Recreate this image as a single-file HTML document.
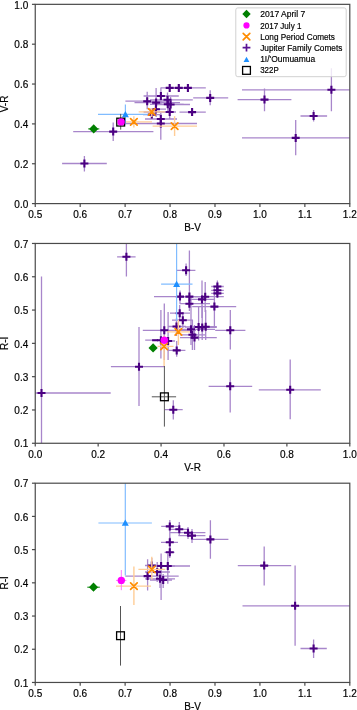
<!DOCTYPE html>
<html><head><meta charset="utf-8"><style>
html,body{margin:0;padding:0;background:#fff;}
svg{display:block;will-change:transform;}
text{font-family:"Liberation Sans",sans-serif;fill:#000;stroke:#000;stroke-width:0.18px;}
</style></head><body>
<svg width="357" height="710" viewBox="0 0 357 710">
<rect width="357" height="710" fill="#fff"/>
<clipPath id="c0"><rect x="35.25" y="4.34" width="314.55" height="199.26"/></clipPath><g clip-path="url(#c0)">
<line x1="62.1" y1="163.5" x2="106.8" y2="163.5" stroke="#a886cb" stroke-width="1.3"/>
<line x1="84.4" y1="156" x2="84.4" y2="171.5" stroke="#a886cb" stroke-width="1.3"/>
<line x1="73.2" y1="131.6" x2="153.4" y2="131.6" stroke="#a886cb" stroke-width="1.3"/>
<line x1="113.2" y1="122.5" x2="113.2" y2="141" stroke="#a886cb" stroke-width="1.3"/>
<line x1="125.4" y1="101.2" x2="170" y2="101.2" stroke="#a886cb" stroke-width="1.3"/>
<line x1="147.2" y1="91.8" x2="147.2" y2="109.3" stroke="#a886cb" stroke-width="1.3"/>
<line x1="143" y1="114.6" x2="160" y2="114.6" stroke="#a886cb" stroke-width="1.3"/>
<line x1="151.8" y1="109" x2="151.8" y2="119" stroke="#a886cb" stroke-width="1.3"/>
<line x1="134.5" y1="102.6" x2="180" y2="102.6" stroke="#a886cb" stroke-width="1.3"/>
<line x1="156.1" y1="88.1" x2="156.1" y2="117" stroke="#a886cb" stroke-width="1.3"/>
<line x1="148" y1="109.2" x2="166" y2="109.2" stroke="#a886cb" stroke-width="1.3"/>
<line x1="155.9" y1="104" x2="155.9" y2="115" stroke="#a886cb" stroke-width="1.3"/>
<line x1="143.6" y1="96" x2="178.8" y2="96" stroke="#a886cb" stroke-width="1.3"/>
<line x1="160.9" y1="87.6" x2="160.9" y2="104" stroke="#a886cb" stroke-width="1.3"/>
<line x1="150" y1="99.8" x2="192.8" y2="99.8" stroke="#a886cb" stroke-width="1.3"/>
<line x1="167.5" y1="92.5" x2="167.5" y2="108" stroke="#a886cb" stroke-width="1.3"/>
<line x1="150" y1="104.3" x2="183.7" y2="104.3" stroke="#a886cb" stroke-width="1.3"/>
<line x1="167.8" y1="96" x2="167.8" y2="112" stroke="#a886cb" stroke-width="1.3"/>
<line x1="155" y1="104.5" x2="190" y2="104.5" stroke="#a886cb" stroke-width="1.3"/>
<line x1="170.6" y1="97" x2="170.6" y2="112" stroke="#a886cb" stroke-width="1.3"/>
<line x1="143.6" y1="112" x2="176" y2="112" stroke="#a886cb" stroke-width="1.3"/>
<line x1="169.7" y1="105" x2="169.7" y2="119" stroke="#a886cb" stroke-width="1.3"/>
<line x1="145" y1="119" x2="177" y2="119" stroke="#a886cb" stroke-width="1.3"/>
<line x1="160.8" y1="113" x2="160.8" y2="128" stroke="#a886cb" stroke-width="1.3"/>
<line x1="125.4" y1="123.5" x2="197" y2="123.5" stroke="#a886cb" stroke-width="1.3"/>
<line x1="160.8" y1="114" x2="160.8" y2="139.8" stroke="#a886cb" stroke-width="1.3"/>
<line x1="160.9" y1="87.9" x2="180" y2="87.9" stroke="#a886cb" stroke-width="1.3"/>
<line x1="169.7" y1="85" x2="169.7" y2="91" stroke="#a886cb" stroke-width="1.3"/>
<line x1="168" y1="87.9" x2="190" y2="87.9" stroke="#a886cb" stroke-width="1.3"/>
<line x1="178.8" y1="85" x2="178.8" y2="91" stroke="#a886cb" stroke-width="1.3"/>
<line x1="166.6" y1="87.9" x2="205.8" y2="87.9" stroke="#a886cb" stroke-width="1.3"/>
<line x1="187.9" y1="84" x2="187.9" y2="92" stroke="#a886cb" stroke-width="1.3"/>
<line x1="179.5" y1="112.1" x2="205.8" y2="112.1" stroke="#a886cb" stroke-width="1.3"/>
<line x1="192.1" y1="107.9" x2="192.1" y2="115.6" stroke="#a886cb" stroke-width="1.3"/>
<line x1="193.2" y1="97.9" x2="228.2" y2="97.9" stroke="#a886cb" stroke-width="1.3"/>
<line x1="210.2" y1="90.2" x2="210.2" y2="105.3" stroke="#a886cb" stroke-width="1.3"/>
<line x1="237.6" y1="99.6" x2="291.4" y2="99.6" stroke="#a886cb" stroke-width="1.3"/>
<line x1="264.5" y1="88.4" x2="264.5" y2="111.3" stroke="#a886cb" stroke-width="1.3"/>
<line x1="242" y1="89.8" x2="352" y2="89.8" stroke="#a886cb" stroke-width="1.3"/>
<line x1="331.4" y1="68.3" x2="331.4" y2="111.2" stroke="#a886cb" stroke-width="1.3"/>
<line x1="300.5" y1="116" x2="327.1" y2="116" stroke="#a886cb" stroke-width="1.3"/>
<line x1="313.6" y1="110" x2="313.6" y2="121.4" stroke="#a886cb" stroke-width="1.3"/>
<line x1="242" y1="137.9" x2="352" y2="137.9" stroke="#a886cb" stroke-width="1.3"/>
<line x1="295.7" y1="120" x2="295.7" y2="155.2" stroke="#a886cb" stroke-width="1.3"/>
<path d="M80.4 163.5H88.4M84.4 159.5V167.5" stroke="#4b0082" stroke-width="2.1"/>
<path d="M109.2 131.6H117.2M113.2 127.6V135.6" stroke="#4b0082" stroke-width="2.1"/>
<path d="M143.2 101.2H151.2M147.2 97.2V105.2" stroke="#4b0082" stroke-width="2.1"/>
<path d="M147.8 114.6H155.8M151.8 110.6V118.6" stroke="#4b0082" stroke-width="2.1"/>
<path d="M152.1 102.6H160.1M156.1 98.6V106.6" stroke="#4b0082" stroke-width="2.1"/>
<path d="M151.9 109.2H159.9M155.9 105.2V113.2" stroke="#4b0082" stroke-width="2.1"/>
<path d="M156.9 96H164.9M160.9 92V100" stroke="#4b0082" stroke-width="2.1"/>
<path d="M163.5 99.8H171.5M167.5 95.8V103.8" stroke="#4b0082" stroke-width="2.1"/>
<path d="M163.8 104.3H171.8M167.8 100.3V108.3" stroke="#4b0082" stroke-width="2.1"/>
<path d="M166.6 104.5H174.6M170.6 100.5V108.5" stroke="#4b0082" stroke-width="2.1"/>
<path d="M165.7 112H173.7M169.7 108V116" stroke="#4b0082" stroke-width="2.1"/>
<path d="M156.8 119H164.8M160.8 115V123" stroke="#4b0082" stroke-width="2.1"/>
<path d="M156.8 123.5H164.8M160.8 119.5V127.5" stroke="#4b0082" stroke-width="2.1"/>
<path d="M165.7 87.9H173.7M169.7 83.9V91.9" stroke="#4b0082" stroke-width="2.1"/>
<path d="M174.8 87.9H182.8M178.8 83.9V91.9" stroke="#4b0082" stroke-width="2.1"/>
<path d="M183.9 87.9H191.9M187.9 83.9V91.9" stroke="#4b0082" stroke-width="2.1"/>
<path d="M188.1 112.1H196.1M192.1 108.1V116.1" stroke="#4b0082" stroke-width="2.1"/>
<path d="M206.2 97.9H214.2M210.2 93.9V101.9" stroke="#4b0082" stroke-width="2.1"/>
<path d="M260.5 99.6H268.5M264.5 95.6V103.6" stroke="#4b0082" stroke-width="2.1"/>
<path d="M327.4 89.8H335.4M331.4 85.8V93.8" stroke="#4b0082" stroke-width="2.1"/>
<path d="M309.6 116H317.6M313.6 112V120" stroke="#4b0082" stroke-width="2.1"/>
<path d="M291.7 137.9H299.7M295.7 133.9V141.9" stroke="#4b0082" stroke-width="2.1"/>
<line x1="125.4" y1="121.85" x2="152" y2="121.85" stroke="#ffcd96" stroke-width="1.4"/>
<line x1="133.85" y1="116.3" x2="133.85" y2="127.5" stroke="#ffcd96" stroke-width="1.4"/>
<path d="M130.55 118.55L137.15 125.15M130.55 125.15L137.15 118.55" stroke="#ff8c00" stroke-width="1.7" stroke-linecap="round"/>
<line x1="138.7" y1="111.9" x2="165" y2="111.9" stroke="#ffcd96" stroke-width="1.4"/>
<line x1="151.8" y1="107.9" x2="151.8" y2="117" stroke="#ffcd96" stroke-width="1.4"/>
<path d="M148.5 108.6L155.1 115.2M148.5 115.2L155.1 108.6" stroke="#ff8c00" stroke-width="1.7" stroke-linecap="round"/>
<line x1="152.6" y1="126.1" x2="197" y2="126.1" stroke="#ffcd96" stroke-width="1.4"/>
<line x1="174.6" y1="116.3" x2="174.6" y2="135.9" stroke="#ffcd96" stroke-width="1.4"/>
<path d="M171.3 122.8L177.9 129.4M171.3 129.4L177.9 122.8" stroke="#ff8c00" stroke-width="1.7" stroke-linecap="round"/>
<line x1="88.2" y1="128.9" x2="99.3" y2="128.9" stroke="#008000" stroke-width="1.0"/>
<path d="M93.7 124.3L98.3 128.9L93.7 133.5L89.1 128.9Z" fill="#008000"/>
<line x1="98" y1="114.4" x2="147.8" y2="114.4" stroke="#80bcff" stroke-width="1.2"/>
<line x1="125.4" y1="104.4" x2="125.4" y2="124.4" stroke="#80bcff" stroke-width="1.2"/>
<path d="M125.4 110.9L128.9 117.2L121.9 117.2Z" fill="#1e90ff"/>
<line x1="120.7" y1="113.9" x2="120.7" y2="129.6" stroke="#555" stroke-width="1.0"/>
<rect x="116.8" y="118.2" width="7.8" height="7.8" fill="none" stroke="#000" stroke-width="1.3"/>
<circle cx="121.1" cy="121.9" r="3.7" fill="#ff00ff"/>
</g>
<rect x="35.25" y="4.34" width="314.55" height="199.26" fill="none" stroke="#4a4a4a" stroke-width="1.2"/>
<line x1="35.25" y1="203.6" x2="35.25" y2="206.9" stroke="#4a4a4a" stroke-width="1.2"/>
<text x="35.25" y="217.9" font-size="10" text-anchor="middle">0.5</text>
<line x1="80.19" y1="203.6" x2="80.19" y2="206.9" stroke="#4a4a4a" stroke-width="1.2"/>
<text x="80.19" y="217.9" font-size="10" text-anchor="middle">0.6</text>
<line x1="125.12" y1="203.6" x2="125.12" y2="206.9" stroke="#4a4a4a" stroke-width="1.2"/>
<text x="125.12" y="217.9" font-size="10" text-anchor="middle">0.7</text>
<line x1="170.06" y1="203.6" x2="170.06" y2="206.9" stroke="#4a4a4a" stroke-width="1.2"/>
<text x="170.06" y="217.9" font-size="10" text-anchor="middle">0.8</text>
<line x1="214.99" y1="203.6" x2="214.99" y2="206.9" stroke="#4a4a4a" stroke-width="1.2"/>
<text x="214.99" y="217.9" font-size="10" text-anchor="middle">0.9</text>
<line x1="259.93" y1="203.6" x2="259.93" y2="206.9" stroke="#4a4a4a" stroke-width="1.2"/>
<text x="259.93" y="217.9" font-size="10" text-anchor="middle">1.0</text>
<line x1="304.86" y1="203.6" x2="304.86" y2="206.9" stroke="#4a4a4a" stroke-width="1.2"/>
<text x="304.86" y="217.9" font-size="10" text-anchor="middle">1.1</text>
<line x1="349.8" y1="203.6" x2="349.8" y2="206.9" stroke="#4a4a4a" stroke-width="1.2"/>
<text x="349.8" y="217.9" font-size="10" text-anchor="middle">1.2</text>
<line x1="31.95" y1="203.6" x2="35.25" y2="203.6" stroke="#4a4a4a" stroke-width="1.2"/>
<text x="28.25" y="207.8" font-size="10" text-anchor="end">0.0</text>
<line x1="31.95" y1="163.75" x2="35.25" y2="163.75" stroke="#4a4a4a" stroke-width="1.2"/>
<text x="28.25" y="167.95" font-size="10" text-anchor="end">0.2</text>
<line x1="31.95" y1="123.9" x2="35.25" y2="123.9" stroke="#4a4a4a" stroke-width="1.2"/>
<text x="28.25" y="128.1" font-size="10" text-anchor="end">0.4</text>
<line x1="31.95" y1="84.04" x2="35.25" y2="84.04" stroke="#4a4a4a" stroke-width="1.2"/>
<text x="28.25" y="88.24" font-size="10" text-anchor="end">0.6</text>
<line x1="31.95" y1="44.19" x2="35.25" y2="44.19" stroke="#4a4a4a" stroke-width="1.2"/>
<text x="28.25" y="48.39" font-size="10" text-anchor="end">0.8</text>
<line x1="31.95" y1="4.34" x2="35.25" y2="4.34" stroke="#4a4a4a" stroke-width="1.2"/>
<text x="28.25" y="8.54" font-size="10" text-anchor="end">1.0</text>
<text x="192.6" y="231.4" font-size="10" text-anchor="middle">B-V</text>
<text x="0" y="0" font-size="10" text-anchor="middle" transform="translate(8.1 103.97) rotate(-90)">V-R</text>
<rect x="235.8" y="7.9" width="110.4" height="68.8" rx="2" fill="#fff" fill-opacity="0.8" stroke="#ccc" stroke-width="0.9"/>
<path d="M246.5 9.8L250.7 14L246.5 18.2L242.3 14Z" fill="#008000"/>
<circle cx="246.5" cy="25.4" r="3.1" fill="#ff00ff"/>
<path d="M243.2 33.3L249.8 39.9M243.2 39.9L249.8 33.3" stroke="#ff8c00" stroke-width="1.7" stroke-linecap="round"/>
<path d="M242.6 47.7H250.4M246.5 43.8V51.6" stroke="#5a1496" stroke-width="1.7"/>
<path d="M246.5 56.7L249.4 61.92L243.6 61.92Z" fill="#1e90ff"/>
<rect x="242.6" y="66.5" width="7.8" height="7.8" fill="none" stroke="#000" stroke-width="1.3"/>
<text x="260.2" y="17.3" font-size="8.5" text-anchor="start" textLength="45" lengthAdjust="spacingAndGlyphs">2017 April 7</text>
<text x="260.2" y="28.5" font-size="8.5" text-anchor="start" textLength="41.2" lengthAdjust="spacingAndGlyphs">2017 July 1</text>
<text x="260.2" y="39.6" font-size="8.5" text-anchor="start" textLength="74.8" lengthAdjust="spacingAndGlyphs">Long Period Comets</text>
<text x="260.2" y="50.7" font-size="8.5" text-anchor="start" textLength="82.2" lengthAdjust="spacingAndGlyphs">Jupiter Family Comets</text>
<text x="260.2" y="62" font-size="8.5" text-anchor="start" textLength="55" lengthAdjust="spacingAndGlyphs">1I/'Oumuamua</text>
<text x="260.2" y="73" font-size="8.5" text-anchor="start" textLength="18.5" lengthAdjust="spacingAndGlyphs">322P</text>
<clipPath id="c1"><rect x="35.25" y="243.46" width="314.55" height="199.81"/></clipPath><g clip-path="url(#c1)">
<line x1="20" y1="393" x2="110.7" y2="393" stroke="#a886cb" stroke-width="1.3"/>
<line x1="41.5" y1="276.4" x2="41.5" y2="460" stroke="#a886cb" stroke-width="1.3"/>
<line x1="117.1" y1="256.8" x2="135.6" y2="256.8" stroke="#a886cb" stroke-width="1.3"/>
<line x1="126.4" y1="230" x2="126.4" y2="276.6" stroke="#a886cb" stroke-width="1.3"/>
<line x1="110.9" y1="366.7" x2="164.8" y2="366.7" stroke="#a886cb" stroke-width="1.3"/>
<line x1="139" y1="327.1" x2="139" y2="405.9" stroke="#a886cb" stroke-width="1.3"/>
<line x1="164.8" y1="409.7" x2="182.7" y2="409.7" stroke="#a886cb" stroke-width="1.3"/>
<line x1="173.3" y1="400.3" x2="173.3" y2="419.4" stroke="#a886cb" stroke-width="1.3"/>
<line x1="176.9" y1="270.3" x2="195.4" y2="270.3" stroke="#a886cb" stroke-width="1.3"/>
<line x1="186.1" y1="263.5" x2="186.1" y2="276.1" stroke="#a886cb" stroke-width="1.3"/>
<line x1="154" y1="296.6" x2="207" y2="296.6" stroke="#a886cb" stroke-width="1.3"/>
<line x1="180" y1="290.6" x2="180" y2="303.5" stroke="#a886cb" stroke-width="1.3"/>
<line x1="175" y1="296.6" x2="200" y2="296.6" stroke="#a886cb" stroke-width="1.3"/>
<line x1="189.4" y1="250.6" x2="189.4" y2="307" stroke="#a886cb" stroke-width="1.3"/>
<line x1="179.6" y1="303.7" x2="210" y2="303.7" stroke="#a886cb" stroke-width="1.3"/>
<line x1="189.4" y1="296" x2="189.4" y2="311" stroke="#a886cb" stroke-width="1.3"/>
<line x1="190" y1="299.4" x2="215" y2="299.4" stroke="#a886cb" stroke-width="1.3"/>
<line x1="202" y1="280.6" x2="202" y2="318" stroke="#a886cb" stroke-width="1.3"/>
<line x1="195" y1="296.7" x2="223.8" y2="296.7" stroke="#a886cb" stroke-width="1.3"/>
<line x1="205.2" y1="282" x2="205.2" y2="312" stroke="#a886cb" stroke-width="1.3"/>
<line x1="211.2" y1="286.5" x2="223.8" y2="286.5" stroke="#a886cb" stroke-width="1.3"/>
<line x1="217.4" y1="280.5" x2="217.4" y2="293" stroke="#a886cb" stroke-width="1.3"/>
<line x1="211.2" y1="290.3" x2="223.8" y2="290.3" stroke="#a886cb" stroke-width="1.3"/>
<line x1="217.4" y1="284" x2="217.4" y2="296" stroke="#a886cb" stroke-width="1.3"/>
<line x1="211.2" y1="293.4" x2="223.8" y2="293.4" stroke="#a886cb" stroke-width="1.3"/>
<line x1="217.4" y1="287" x2="217.4" y2="298" stroke="#a886cb" stroke-width="1.3"/>
<line x1="192.2" y1="306.6" x2="236.2" y2="306.6" stroke="#a886cb" stroke-width="1.3"/>
<line x1="214.4" y1="286" x2="214.4" y2="326" stroke="#a886cb" stroke-width="1.3"/>
<line x1="170" y1="313.2" x2="190" y2="313.2" stroke="#a886cb" stroke-width="1.3"/>
<line x1="179.7" y1="305" x2="179.7" y2="320" stroke="#a886cb" stroke-width="1.3"/>
<line x1="172" y1="320.2" x2="193" y2="320.2" stroke="#a886cb" stroke-width="1.3"/>
<line x1="182.8" y1="312" x2="182.8" y2="328" stroke="#a886cb" stroke-width="1.3"/>
<line x1="142.8" y1="330.3" x2="196" y2="330.3" stroke="#a886cb" stroke-width="1.3"/>
<line x1="164.3" y1="303.4" x2="164.3" y2="360" stroke="#a886cb" stroke-width="1.3"/>
<line x1="168" y1="326.5" x2="186" y2="326.5" stroke="#a886cb" stroke-width="1.3"/>
<line x1="176.5" y1="318" x2="176.5" y2="336" stroke="#a886cb" stroke-width="1.3"/>
<line x1="145.2" y1="340.2" x2="168" y2="340.2" stroke="#a886cb" stroke-width="1.3"/>
<line x1="160.9" y1="310" x2="160.9" y2="358.5" stroke="#a886cb" stroke-width="1.3"/>
<line x1="160" y1="341" x2="175" y2="341" stroke="#a886cb" stroke-width="1.3"/>
<line x1="168.1" y1="312" x2="168.1" y2="360" stroke="#a886cb" stroke-width="1.3"/>
<line x1="175" y1="329.3" x2="215" y2="329.3" stroke="#a886cb" stroke-width="1.3"/>
<line x1="191" y1="296.3" x2="191" y2="345" stroke="#a886cb" stroke-width="1.3"/>
<line x1="185" y1="327" x2="215" y2="327" stroke="#a886cb" stroke-width="1.3"/>
<line x1="198.6" y1="306.8" x2="198.6" y2="340.4" stroke="#a886cb" stroke-width="1.3"/>
<line x1="190" y1="327.4" x2="216.8" y2="327.4" stroke="#a886cb" stroke-width="1.3"/>
<line x1="202.2" y1="305.4" x2="202.2" y2="340" stroke="#a886cb" stroke-width="1.3"/>
<line x1="195" y1="326.7" x2="216.8" y2="326.7" stroke="#a886cb" stroke-width="1.3"/>
<line x1="205.7" y1="310" x2="205.7" y2="340" stroke="#a886cb" stroke-width="1.3"/>
<line x1="180" y1="334.8" x2="205" y2="334.8" stroke="#a886cb" stroke-width="1.3"/>
<line x1="192.4" y1="320" x2="192.4" y2="350" stroke="#a886cb" stroke-width="1.3"/>
<line x1="180" y1="337.6" x2="216.8" y2="337.6" stroke="#a886cb" stroke-width="1.3"/>
<line x1="194.5" y1="325" x2="194.5" y2="350" stroke="#a886cb" stroke-width="1.3"/>
<line x1="215.2" y1="330.3" x2="245.4" y2="330.3" stroke="#a886cb" stroke-width="1.3"/>
<line x1="230.3" y1="310.1" x2="230.3" y2="349.6" stroke="#a886cb" stroke-width="1.3"/>
<line x1="208.6" y1="386.3" x2="252.2" y2="386.3" stroke="#a886cb" stroke-width="1.3"/>
<line x1="230.2" y1="359.6" x2="230.2" y2="412.5" stroke="#a886cb" stroke-width="1.3"/>
<line x1="258.8" y1="389.8" x2="320.8" y2="389.8" stroke="#a886cb" stroke-width="1.3"/>
<line x1="290.2" y1="359.6" x2="290.2" y2="419.2" stroke="#a886cb" stroke-width="1.3"/>
<line x1="167.7" y1="350.4" x2="185.4" y2="350.4" stroke="#a886cb" stroke-width="1.3"/>
<line x1="176.7" y1="341" x2="176.7" y2="356.8" stroke="#a886cb" stroke-width="1.3"/>
<path d="M37.5 393H45.5M41.5 389V397" stroke="#4b0082" stroke-width="2.1"/>
<path d="M122.4 256.8H130.4M126.4 252.8V260.8" stroke="#4b0082" stroke-width="2.1"/>
<path d="M135 366.7H143M139 362.7V370.7" stroke="#4b0082" stroke-width="2.1"/>
<path d="M169.3 409.7H177.3M173.3 405.7V413.7" stroke="#4b0082" stroke-width="2.1"/>
<path d="M182.1 270.3H190.1M186.1 266.3V274.3" stroke="#4b0082" stroke-width="2.1"/>
<path d="M176 296.6H184M180 292.6V300.6" stroke="#4b0082" stroke-width="2.1"/>
<path d="M185.4 296.6H193.4M189.4 292.6V300.6" stroke="#4b0082" stroke-width="2.1"/>
<path d="M185.4 303.7H193.4M189.4 299.7V307.7" stroke="#4b0082" stroke-width="2.1"/>
<path d="M198 299.4H206M202 295.4V303.4" stroke="#4b0082" stroke-width="2.1"/>
<path d="M201.2 296.7H209.2M205.2 292.7V300.7" stroke="#4b0082" stroke-width="2.1"/>
<path d="M213.4 286.5H221.4M217.4 282.5V290.5" stroke="#4b0082" stroke-width="2.1"/>
<path d="M213.4 290.3H221.4M217.4 286.3V294.3" stroke="#4b0082" stroke-width="2.1"/>
<path d="M213.4 293.4H221.4M217.4 289.4V297.4" stroke="#4b0082" stroke-width="2.1"/>
<path d="M210.4 306.6H218.4M214.4 302.6V310.6" stroke="#4b0082" stroke-width="2.1"/>
<path d="M175.7 313.2H183.7M179.7 309.2V317.2" stroke="#4b0082" stroke-width="2.1"/>
<path d="M178.8 320.2H186.8M182.8 316.2V324.2" stroke="#4b0082" stroke-width="2.1"/>
<path d="M160.3 330.3H168.3M164.3 326.3V334.3" stroke="#4b0082" stroke-width="2.1"/>
<path d="M172.5 326.5H180.5M176.5 322.5V330.5" stroke="#4b0082" stroke-width="2.1"/>
<path d="M156.9 340.2H164.9M160.9 336.2V344.2" stroke="#4b0082" stroke-width="2.1"/>
<path d="M164.1 341H172.1M168.1 337V345" stroke="#4b0082" stroke-width="2.1"/>
<path d="M187 329.3H195M191 325.3V333.3" stroke="#4b0082" stroke-width="2.1"/>
<path d="M194.6 327H202.6M198.6 323V331" stroke="#4b0082" stroke-width="2.1"/>
<path d="M198.2 327.4H206.2M202.2 323.4V331.4" stroke="#4b0082" stroke-width="2.1"/>
<path d="M201.7 326.7H209.7M205.7 322.7V330.7" stroke="#4b0082" stroke-width="2.1"/>
<path d="M188.4 334.8H196.4M192.4 330.8V338.8" stroke="#4b0082" stroke-width="2.1"/>
<path d="M190.5 337.6H198.5M194.5 333.6V341.6" stroke="#4b0082" stroke-width="2.1"/>
<path d="M226.3 330.3H234.3M230.3 326.3V334.3" stroke="#4b0082" stroke-width="2.1"/>
<path d="M226.2 386.3H234.2M230.2 382.3V390.3" stroke="#4b0082" stroke-width="2.1"/>
<path d="M286.2 389.8H294.2M290.2 385.8V393.8" stroke="#4b0082" stroke-width="2.1"/>
<path d="M172.7 350.4H180.7M176.7 346.4V354.4" stroke="#4b0082" stroke-width="2.1"/>
<line x1="152.1" y1="340.2" x2="158" y2="340.2" stroke="#4b0082" stroke-width="2.0"/>
<line x1="167.2" y1="331.9" x2="190" y2="331.9" stroke="#ffcd96" stroke-width="1.4"/>
<line x1="178.4" y1="320" x2="178.4" y2="345" stroke="#ffcd96" stroke-width="1.4"/>
<path d="M175.1 328.6L181.7 335.2M175.1 335.2L181.7 328.6" stroke="#ff8c00" stroke-width="1.7" stroke-linecap="round"/>
<line x1="157.6" y1="346.4" x2="173.5" y2="346.4" stroke="#ffcd96" stroke-width="1.4"/>
<line x1="164.1" y1="335.4" x2="164.1" y2="366" stroke="#ffcd96" stroke-width="1.4"/>
<path d="M160.8 343.1L167.4 349.7M160.8 349.7L167.4 343.1" stroke="#ff8c00" stroke-width="1.7" stroke-linecap="round"/>
<path d="M153.1 343.3L157.7 347.9L153.1 352.5L148.5 347.9Z" fill="#008000"/>
<circle cx="164.3" cy="340.3" r="3.7" fill="#ff00ff"/>
<line x1="161.1" y1="284.2" x2="192.5" y2="284.2" stroke="#80bcff" stroke-width="1.2"/>
<line x1="176.6" y1="230" x2="176.6" y2="321" stroke="#80bcff" stroke-width="1.2"/>
<path d="M176.6 280.7L180.1 287L173.1 287Z" fill="#1e90ff"/>
<line x1="151.8" y1="396.8" x2="176.1" y2="396.8" stroke="#555" stroke-width="1.0"/>
<line x1="164.4" y1="366" x2="164.4" y2="426.6" stroke="#555" stroke-width="1.0"/>
<rect x="160.5" y="392.9" width="7.8" height="7.8" fill="none" stroke="#000" stroke-width="1.3"/>
</g>
<rect x="35.25" y="243.46" width="314.55" height="199.81" fill="none" stroke="#4a4a4a" stroke-width="1.2"/>
<line x1="35.25" y1="443.27" x2="35.25" y2="446.57" stroke="#4a4a4a" stroke-width="1.2"/>
<text x="35.25" y="457.57" font-size="10" text-anchor="middle">0.0</text>
<line x1="98.16" y1="443.27" x2="98.16" y2="446.57" stroke="#4a4a4a" stroke-width="1.2"/>
<text x="98.16" y="457.57" font-size="10" text-anchor="middle">0.2</text>
<line x1="161.07" y1="443.27" x2="161.07" y2="446.57" stroke="#4a4a4a" stroke-width="1.2"/>
<text x="161.07" y="457.57" font-size="10" text-anchor="middle">0.4</text>
<line x1="223.98" y1="443.27" x2="223.98" y2="446.57" stroke="#4a4a4a" stroke-width="1.2"/>
<text x="223.98" y="457.57" font-size="10" text-anchor="middle">0.6</text>
<line x1="286.89" y1="443.27" x2="286.89" y2="446.57" stroke="#4a4a4a" stroke-width="1.2"/>
<text x="286.89" y="457.57" font-size="10" text-anchor="middle">0.8</text>
<line x1="349.8" y1="443.27" x2="349.8" y2="446.57" stroke="#4a4a4a" stroke-width="1.2"/>
<text x="349.8" y="457.57" font-size="10" text-anchor="middle">1.0</text>
<line x1="31.95" y1="443.27" x2="35.25" y2="443.27" stroke="#4a4a4a" stroke-width="1.2"/>
<text x="28.25" y="447.47" font-size="10" text-anchor="end">0.1</text>
<line x1="31.95" y1="409.97" x2="35.25" y2="409.97" stroke="#4a4a4a" stroke-width="1.2"/>
<text x="28.25" y="414.17" font-size="10" text-anchor="end">0.2</text>
<line x1="31.95" y1="376.67" x2="35.25" y2="376.67" stroke="#4a4a4a" stroke-width="1.2"/>
<text x="28.25" y="380.87" font-size="10" text-anchor="end">0.3</text>
<line x1="31.95" y1="343.36" x2="35.25" y2="343.36" stroke="#4a4a4a" stroke-width="1.2"/>
<text x="28.25" y="347.56" font-size="10" text-anchor="end">0.4</text>
<line x1="31.95" y1="310.06" x2="35.25" y2="310.06" stroke="#4a4a4a" stroke-width="1.2"/>
<text x="28.25" y="314.26" font-size="10" text-anchor="end">0.5</text>
<line x1="31.95" y1="276.76" x2="35.25" y2="276.76" stroke="#4a4a4a" stroke-width="1.2"/>
<text x="28.25" y="280.96" font-size="10" text-anchor="end">0.6</text>
<line x1="31.95" y1="243.46" x2="35.25" y2="243.46" stroke="#4a4a4a" stroke-width="1.2"/>
<text x="28.25" y="247.66" font-size="10" text-anchor="end">0.7</text>
<text x="192.6" y="471.07" font-size="10" text-anchor="middle">V-R</text>
<text x="0" y="0" font-size="10" text-anchor="middle" transform="translate(8.1 343.37) rotate(-90)">R-I</text>
<clipPath id="c2"><rect x="35.25" y="483.2" width="314.55" height="199.26"/></clipPath><g clip-path="url(#c2)">
<line x1="161.2" y1="526.4" x2="178" y2="526.4" stroke="#a886cb" stroke-width="1.3"/>
<line x1="169.8" y1="520" x2="169.8" y2="545" stroke="#a886cb" stroke-width="1.3"/>
<line x1="170" y1="529.3" x2="188" y2="529.3" stroke="#a886cb" stroke-width="1.3"/>
<line x1="179.3" y1="522" x2="179.3" y2="536" stroke="#a886cb" stroke-width="1.3"/>
<line x1="170" y1="532.7" x2="205.4" y2="532.7" stroke="#a886cb" stroke-width="1.3"/>
<line x1="188" y1="527" x2="188" y2="539" stroke="#a886cb" stroke-width="1.3"/>
<line x1="178.5" y1="535.6" x2="205.4" y2="535.6" stroke="#a886cb" stroke-width="1.3"/>
<line x1="192" y1="529" x2="192" y2="543" stroke="#a886cb" stroke-width="1.3"/>
<line x1="192.8" y1="539.4" x2="228.4" y2="539.4" stroke="#a886cb" stroke-width="1.3"/>
<line x1="210.4" y1="520.2" x2="210.4" y2="558.8" stroke="#a886cb" stroke-width="1.3"/>
<line x1="161" y1="542.3" x2="178" y2="542.3" stroke="#a886cb" stroke-width="1.3"/>
<line x1="169.8" y1="537" x2="169.8" y2="549" stroke="#a886cb" stroke-width="1.3"/>
<line x1="164.5" y1="552.3" x2="174.5" y2="552.3" stroke="#a886cb" stroke-width="1.3"/>
<line x1="169.8" y1="546" x2="169.8" y2="558" stroke="#a886cb" stroke-width="1.3"/>
<line x1="150" y1="566" x2="175" y2="566" stroke="#a886cb" stroke-width="1.3"/>
<line x1="161.1" y1="553.4" x2="161.1" y2="600" stroke="#a886cb" stroke-width="1.3"/>
<line x1="150" y1="566" x2="190" y2="566" stroke="#a886cb" stroke-width="1.3"/>
<line x1="167.8" y1="553.4" x2="167.8" y2="583.7" stroke="#a886cb" stroke-width="1.3"/>
<line x1="125.3" y1="576.1" x2="178.7" y2="576.1" stroke="#a886cb" stroke-width="1.3"/>
<line x1="147.6" y1="559.3" x2="147.6" y2="590.4" stroke="#a886cb" stroke-width="1.3"/>
<line x1="145" y1="565.5" x2="160" y2="565.5" stroke="#a886cb" stroke-width="1.3"/>
<line x1="151.8" y1="558" x2="151.8" y2="572" stroke="#a886cb" stroke-width="1.3"/>
<line x1="145" y1="572" x2="170" y2="572" stroke="#a886cb" stroke-width="1.3"/>
<line x1="157.2" y1="562" x2="157.2" y2="582" stroke="#a886cb" stroke-width="1.3"/>
<line x1="145" y1="578.8" x2="175" y2="578.8" stroke="#a886cb" stroke-width="1.3"/>
<line x1="160" y1="570" x2="160" y2="588" stroke="#a886cb" stroke-width="1.3"/>
<line x1="150" y1="580" x2="172" y2="580" stroke="#a886cb" stroke-width="1.3"/>
<line x1="163.2" y1="574" x2="163.2" y2="588" stroke="#a886cb" stroke-width="1.3"/>
<line x1="237.8" y1="565.6" x2="291.2" y2="565.6" stroke="#a886cb" stroke-width="1.3"/>
<line x1="264.2" y1="546.4" x2="264.2" y2="585.6" stroke="#a886cb" stroke-width="1.3"/>
<line x1="242.5" y1="605.8" x2="352" y2="605.8" stroke="#a886cb" stroke-width="1.3"/>
<line x1="295.1" y1="565.6" x2="295.1" y2="645.7" stroke="#a886cb" stroke-width="1.3"/>
<line x1="300.5" y1="648.5" x2="326.8" y2="648.5" stroke="#a886cb" stroke-width="1.3"/>
<line x1="313.6" y1="639.6" x2="313.6" y2="658.1" stroke="#a886cb" stroke-width="1.3"/>
<path d="M165.8 526.4H173.8M169.8 522.4V530.4" stroke="#4b0082" stroke-width="2.1"/>
<path d="M175.3 529.3H183.3M179.3 525.3V533.3" stroke="#4b0082" stroke-width="2.1"/>
<path d="M184 532.7H192M188 528.7V536.7" stroke="#4b0082" stroke-width="2.1"/>
<path d="M188 535.6H196M192 531.6V539.6" stroke="#4b0082" stroke-width="2.1"/>
<path d="M206.4 539.4H214.4M210.4 535.4V543.4" stroke="#4b0082" stroke-width="2.1"/>
<path d="M165.8 542.3H173.8M169.8 538.3V546.3" stroke="#4b0082" stroke-width="2.1"/>
<path d="M165.8 552.3H173.8M169.8 548.3V556.3" stroke="#4b0082" stroke-width="2.1"/>
<path d="M157.1 566H165.1M161.1 562V570" stroke="#4b0082" stroke-width="2.1"/>
<path d="M163.8 566H171.8M167.8 562V570" stroke="#4b0082" stroke-width="2.1"/>
<path d="M143.6 576.1H151.6M147.6 572.1V580.1" stroke="#4b0082" stroke-width="2.1"/>
<path d="M147.8 565.5H155.8M151.8 561.5V569.5" stroke="#4b0082" stroke-width="2.1"/>
<path d="M153.2 572H161.2M157.2 568V576" stroke="#4b0082" stroke-width="2.1"/>
<path d="M156 578.8H164M160 574.8V582.8" stroke="#4b0082" stroke-width="2.1"/>
<path d="M159.2 580H167.2M163.2 576V584" stroke="#4b0082" stroke-width="2.1"/>
<path d="M260.2 565.6H268.2M264.2 561.6V569.6" stroke="#4b0082" stroke-width="2.1"/>
<path d="M291.1 605.8H299.1M295.1 601.8V609.8" stroke="#4b0082" stroke-width="2.1"/>
<path d="M309.6 648.5H317.6M313.6 644.5V652.5" stroke="#4b0082" stroke-width="2.1"/>
<line x1="138.4" y1="569.4" x2="165.3" y2="569.4" stroke="#ffcd96" stroke-width="1.4"/>
<line x1="151.8" y1="556.8" x2="151.8" y2="579.5" stroke="#ffcd96" stroke-width="1.4"/>
<path d="M148.5 566.1L155.1 572.7M148.5 572.7L155.1 566.1" stroke="#ff8c00" stroke-width="1.7" stroke-linecap="round"/>
<line x1="116" y1="586.1" x2="151" y2="586.1" stroke="#ffcd96" stroke-width="1.4"/>
<line x1="133.9" y1="566.4" x2="133.9" y2="605" stroke="#ffcd96" stroke-width="1.4"/>
<path d="M130.6 582.8L137.2 589.4M130.6 589.4L137.2 582.8" stroke="#ff8c00" stroke-width="1.7" stroke-linecap="round"/>
<line x1="87.3" y1="587.2" x2="99.8" y2="587.2" stroke="#008000" stroke-width="1.0"/>
<path d="M93.5 582.6L98.1 587.2L93.5 591.8L88.9 587.2Z" fill="#008000"/>
<line x1="116" y1="580.4" x2="126.4" y2="580.4" stroke="#ff66ff" stroke-width="0.9"/>
<line x1="121.3" y1="570" x2="121.3" y2="590.2" stroke="#ff66ff" stroke-width="0.9"/>
<circle cx="121.3" cy="580.4" r="3.7" fill="#ff00ff"/>
<line x1="98.4" y1="523" x2="151.9" y2="523" stroke="#80bcff" stroke-width="1.2"/>
<line x1="125.3" y1="470" x2="125.3" y2="575.6" stroke="#80bcff" stroke-width="1.2"/>
<path d="M125.3 519.5L128.8 525.8L121.8 525.8Z" fill="#1e90ff"/>
<line x1="120.5" y1="606" x2="120.5" y2="665.6" stroke="#555" stroke-width="1.0"/>
<rect x="116.6" y="631.8" width="7.8" height="7.8" fill="none" stroke="#000" stroke-width="1.3"/>
</g>
<rect x="35.25" y="483.2" width="314.55" height="199.26" fill="none" stroke="#4a4a4a" stroke-width="1.2"/>
<line x1="35.25" y1="682.46" x2="35.25" y2="685.76" stroke="#4a4a4a" stroke-width="1.2"/>
<text x="35.25" y="696.76" font-size="10" text-anchor="middle">0.5</text>
<line x1="80.19" y1="682.46" x2="80.19" y2="685.76" stroke="#4a4a4a" stroke-width="1.2"/>
<text x="80.19" y="696.76" font-size="10" text-anchor="middle">0.6</text>
<line x1="125.12" y1="682.46" x2="125.12" y2="685.76" stroke="#4a4a4a" stroke-width="1.2"/>
<text x="125.12" y="696.76" font-size="10" text-anchor="middle">0.7</text>
<line x1="170.06" y1="682.46" x2="170.06" y2="685.76" stroke="#4a4a4a" stroke-width="1.2"/>
<text x="170.06" y="696.76" font-size="10" text-anchor="middle">0.8</text>
<line x1="214.99" y1="682.46" x2="214.99" y2="685.76" stroke="#4a4a4a" stroke-width="1.2"/>
<text x="214.99" y="696.76" font-size="10" text-anchor="middle">0.9</text>
<line x1="259.93" y1="682.46" x2="259.93" y2="685.76" stroke="#4a4a4a" stroke-width="1.2"/>
<text x="259.93" y="696.76" font-size="10" text-anchor="middle">1.0</text>
<line x1="304.86" y1="682.46" x2="304.86" y2="685.76" stroke="#4a4a4a" stroke-width="1.2"/>
<text x="304.86" y="696.76" font-size="10" text-anchor="middle">1.1</text>
<line x1="349.8" y1="682.46" x2="349.8" y2="685.76" stroke="#4a4a4a" stroke-width="1.2"/>
<text x="349.8" y="696.76" font-size="10" text-anchor="middle">1.2</text>
<line x1="31.95" y1="682.46" x2="35.25" y2="682.46" stroke="#4a4a4a" stroke-width="1.2"/>
<text x="28.25" y="686.66" font-size="10" text-anchor="end">0.1</text>
<line x1="31.95" y1="649.25" x2="35.25" y2="649.25" stroke="#4a4a4a" stroke-width="1.2"/>
<text x="28.25" y="653.45" font-size="10" text-anchor="end">0.2</text>
<line x1="31.95" y1="616.04" x2="35.25" y2="616.04" stroke="#4a4a4a" stroke-width="1.2"/>
<text x="28.25" y="620.24" font-size="10" text-anchor="end">0.3</text>
<line x1="31.95" y1="582.83" x2="35.25" y2="582.83" stroke="#4a4a4a" stroke-width="1.2"/>
<text x="28.25" y="587.03" font-size="10" text-anchor="end">0.4</text>
<line x1="31.95" y1="549.62" x2="35.25" y2="549.62" stroke="#4a4a4a" stroke-width="1.2"/>
<text x="28.25" y="553.82" font-size="10" text-anchor="end">0.5</text>
<line x1="31.95" y1="516.41" x2="35.25" y2="516.41" stroke="#4a4a4a" stroke-width="1.2"/>
<text x="28.25" y="520.61" font-size="10" text-anchor="end">0.6</text>
<line x1="31.95" y1="483.2" x2="35.25" y2="483.2" stroke="#4a4a4a" stroke-width="1.2"/>
<text x="28.25" y="487.4" font-size="10" text-anchor="end">0.7</text>
<text x="192.6" y="710.26" font-size="10" text-anchor="middle">B-V</text>
<text x="0" y="0" font-size="10" text-anchor="middle" transform="translate(8.1 582.83) rotate(-90)">R-I</text>
</svg>
</body></html>
